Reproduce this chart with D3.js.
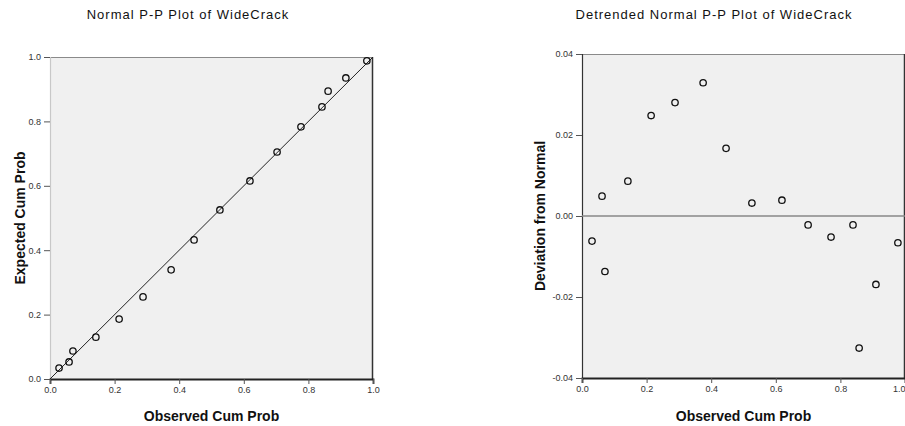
<!DOCTYPE html>
<html>
<head>
<meta charset="utf-8">
<script src="https://cdn.jsdelivr.net/npm/d3@7/dist/d3.min.js"></script>
<style>
  html, body { margin: 0; padding: 0; background: #fff; overflow: hidden; }
  svg { display: block; font-family: "Liberation Sans", Arial, sans-serif; }
  .title { font-size: 13px; letter-spacing: 1px; fill: #111; }
  .axis-title { font-size: 14px; font-weight: bold; fill: #111; }
  .tick text { font-size: 9px; fill: #333; }
</style>
</head>
<body>
<svg id="chart" width="905" height="426"></svg>
<script>
// ======================================================
//  Normal P-P plot + detrended P-P plot of WideCrack
// ======================================================

// Left panel: observed vs expected cumulative probability
const ppObserved = [0.028, 0.059, 0.071, 0.142, 0.214, 0.288, 0.375, 0.446,
                    0.526, 0.619, 0.703, 0.777, 0.842, 0.861, 0.916, 0.981];
const ppExpected = [0.034, 0.053, 0.087, 0.130, 0.186, 0.255, 0.339, 0.432,
                    0.525, 0.615, 0.705, 0.783, 0.845, 0.894, 0.935, 0.988];

// Right panel: observed cum prob vs deviation from normal
const detObserved = [0.031, 0.062, 0.071, 0.142, 0.214, 0.288, 0.375, 0.446,
                     0.526, 0.619, 0.700, 0.771, 0.839, 0.858, 0.910, 0.978];
const detDeviation = [-0.0062, 0.0049, -0.0137, 0.0086, 0.0248, 0.0280, 0.0329, 0.0167,
                      0.0032, 0.0039, -0.0022, -0.0052, -0.0022, -0.0326, -0.0169, -0.0066];

// Tick values and labels
const probTicks = [0, 0.2, 0.4, 0.6, 0.8, 1.0];
const probTickLabels = ["0.0", "0.2", "0.4", "0.6", "0.8", "1.0"];
const devTicks = [-0.04, -0.02, 0, 0.02, 0.04];
const devTickLabels = ["-0.04", "-0.02", "0.00", "0.02", "0.04"];

const svg = d3.select("#chart");
const PLOT_BG = "#f0f0f0";

function drawPanel(opts) {
  const { left, right, top, bottom } = opts.box;
  const x = d3.scaleLinear().domain([0, 1]).range([left, right]);
  const y = d3.scaleLinear().domain(opts.yDomain).range([bottom, top]);
  const g = svg.append("g");

  // plot background
  g.append("rect")
    .attr("x", left).attr("y", top)
    .attr("width", right - left).attr("height", bottom - top)
    .attr("fill", PLOT_BG);

  // frame: top/left light, bottom/right dark (SPSS look)
  g.append("line").attr("x1", left).attr("x2", right).attr("y1", top + 0.5).attr("y2", top + 0.5)
    .attr("stroke", "#8a8a8a").attr("stroke-width", 1);
  g.append("line").attr("x1", left + 0.5).attr("x2", left + 0.5).attr("y1", top).attr("y2", bottom)
    .attr("stroke", opts.leftAxisColor).attr("stroke-width", 1.2);
  g.append("line").attr("x1", right - 0.5).attr("x2", right - 0.5).attr("y1", top).attr("y2", bottom)
    .attr("stroke", "#333").attr("stroke-width", 1.5);

  // axes
  const xAxis = g.append("g")
    .attr("transform", `translate(0,${bottom})`)
    .call(d3.axisBottom(x).tickValues(probTicks).tickSize(5).tickPadding(3)
      .tickFormat((d, i) => probTickLabels[i]));
  xAxis.select(".domain").attr("stroke", "#222").attr("stroke-width", 1.8);
  xAxis.selectAll(".tick line").attr("stroke", "#555");
  // last label sits on the window edge in the right panel, keep it inside
  if (opts.clipLastLabel) {
    xAxis.selectAll(".tick text").filter((d) => d === 1).attr("text-anchor", "end");
  }

  const yAxis = g.append("g")
    .attr("transform", `translate(${left},0)`)
    .call(d3.axisLeft(y).tickValues(opts.yTicks).tickSize(6).tickPadding(3)
      .tickFormat((d, i) => opts.yTickLabels[i]));
  yAxis.select(".domain").remove();
  yAxis.selectAll(".tick line").attr("stroke", "#555");

  // reference line(s)
  opts.reference(g, x, y);

  // points
  g.append("g")
    .selectAll("circle")
    .data(opts.xs)
    .join("circle")
    .attr("cx", (d) => x(d))
    .attr("cy", (d, i) => y(opts.ys[i]))
    .attr("r", 3.2)
    .attr("fill", "none")
    .attr("stroke", "#111")
    .attr("stroke-width", 1.3);

  // titles
  svg.append("text").attr("class", "title")
    .attr("x", opts.titleX).attr("y", 19)
    .attr("text-anchor", "middle")
    .text(opts.title);
  svg.append("text").attr("class", "axis-title")
    .attr("x", (left + right) / 2).attr("y", 421)
    .attr("text-anchor", "middle")
    .text("Observed Cum Prob");
  svg.append("text").attr("class", "axis-title")
    .attr("transform", `translate(${opts.yTitleX},${(top + bottom) / 2}) rotate(-90)`)
    .attr("text-anchor", "middle")
    .text(opts.yTitle);
}

drawPanel({
  box: { left: 50, right: 373, top: 57, bottom: 379 },
  yDomain: [0, 1],
  yTicks: probTicks,
  yTickLabels: probTickLabels,
  leftAxisColor: "#c8c8c8",
  xs: ppObserved,
  ys: ppExpected,
  title: "Normal P-P Plot of WideCrack",
  titleX: 188,
  yTitle: "Expected Cum Prob",
  yTitleX: 25,
  reference: (g, x, y) => {
    g.append("line")
      .attr("x1", x(0)).attr("y1", y(0))
      .attr("x2", x(1)).attr("y2", y(1))
      .attr("stroke", "#222").attr("stroke-width", 1);
  },
});

drawPanel({
  box: { left: 582, right: 905, top: 54, bottom: 378 },
  yDomain: [-0.04, 0.04],
  yTicks: devTicks,
  yTickLabels: devTickLabels,
  leftAxisColor: "#333",
  clipLastLabel: true,
  xs: detObserved,
  ys: detDeviation,
  title: "Detrended Normal P-P Plot of WideCrack",
  titleX: 714,
  yTitle: "Deviation from Normal",
  yTitleX: 545,
  reference: (g, x, y) => {
    g.append("line")
      .attr("x1", x(0)).attr("y1", y(0))
      .attr("x2", x(1)).attr("y2", y(0))
      .attr("stroke", "#888").attr("stroke-width", 1.5);
  },
});
</script>
</body>
</html>
